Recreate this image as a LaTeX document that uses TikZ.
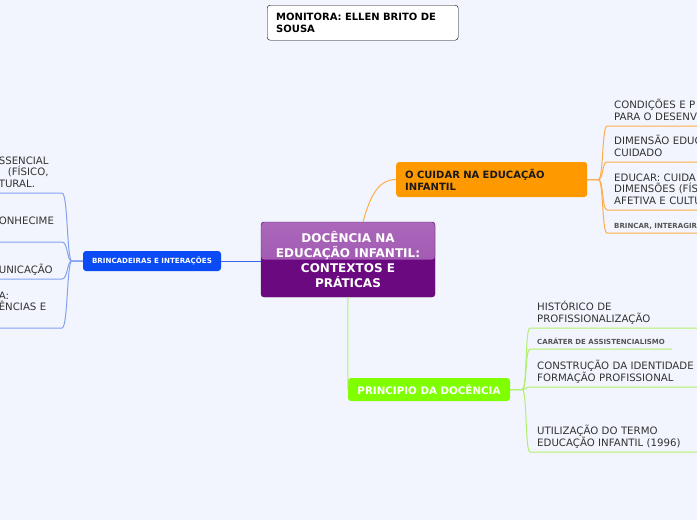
\documentclass[tikz,border=0pt]{standalone}
\usepackage{fontspec}
\setmainfont{DejaVu Sans}
\usetikzlibrary{positioning}
\definecolor{bgblue}{HTML}{F2F5FD}
\definecolor{purpletop}{HTML}{AB68BB}
\definecolor{purplemid}{HTML}{9A4DAA}
\definecolor{purplebot}{HTML}{6B0A80}
\definecolor{purpleedge}{HTML}{561068}
\definecolor{orangebox}{HTML}{FF9900}
\definecolor{orangeline}{HTML}{FFAD4A}
\definecolor{greenbox}{HTML}{80FF00}
\definecolor{greenline}{HTML}{B0F06C}
\definecolor{bluebox}{HTML}{0A4BF5}
\definecolor{blueline}{HTML}{3A66EE}
\definecolor{bluethin}{HTML}{86A0F2}
\definecolor{leaftext}{HTML}{333333}
\definecolor{smalltext}{HTML}{555555}
\tikzset{
    topic/.style={rounded corners=3pt, inner xsep=9pt, inner ysep=2pt,
    font=\fontsize{10}{11.7}\selectfont\bfseries
    },
    central/.style={draw=purpleedge, fill=purplebot, rounded corners=3pt, text=white,
    minimum width=174pt, minimum height=75pt, align=center,
    font=\fontsize{12}{14.8}\selectfont\bfseries,
    path picture={\shade[top color=purpletop, bottom color=purplemid]
    (path picture bounding box.north west) rectangle (path picture bounding box.east);}
    },
    leaf/.style={anchor=south west, align=left, inner xsep=7pt, inner ysep=2pt,
    execute at end node=\strut,
    text=leaftext, font=\fontsize{10.2}{11.5}\selectfont},
    smallleaf/.style={leaf, text=smalltext, font=\fontsize{7}{8}\selectfont\bfseries},
    oedge/.style={draw=orangeline, line width=1pt},
    pedge/.style={draw=greenline, line width=1pt},
    bedge/.style={draw=blueline, line width=1pt},
    bthin/.style={draw=bluethin, line width=1pt}
}
\begin{document}
\begin{tikzpicture}[x=1pt,y=-1pt]
\fill[bgblue] (0,0) rectangle (697,520);
\useasboundingbox (0,0) rectangle (697,520);

\node[topic, draw=black, fill=white, anchor=north west, minimum width=191pt, minimum height=35pt,
  text width=173pt, align=left] (m) at (267,5) {MONITORA: ELLEN BRITO DE\\SOUSA};

\node[central] (c) at (348,259.5) {DOCÊNCIA NA\\EDUCAÇÃO INFANTIL:\\CONTEXTOS E\\PRÁTICAS};

\node[topic, fill=orangebox, text=black!90, anchor=west, minimum height=35pt, text width=173pt,
  align=left] (o) at (396,179.5) {O CUIDAR NA EDUCAÇÃO\\INFANTIL};
\node[topic, fill=greenbox, text=white, minimum width=162pt, minimum height=23pt,
  font=\fontsize{10.3}{12}\selectfont\bfseries] (p) at (429,389.5) {PRINCIPIO DA DOCÊNCIA};
\node[topic, fill=bluebox, text=white, minimum width=138pt, minimum height=20pt,
  font=\fontsize{7.1}{8}\selectfont\bfseries] (b) at (152,261) {BRINCADEIRAS E INTERAÇÕES};

% O cuidar
\node[leaf, text width=100pt] (o1) at (607,126) {CONDIÇÕES E P\\PARA O DESENV};
\node[leaf, text width=100pt] (o2) at (607,162) {DIMENSÃO EDUC\\CUIDADO};
\node[leaf, text width=100pt] (o3) at (607,210) {EDUCAR: CUIDA\\DIMENSÕES (FÍS\\AFETIVA E CULTU};
\node[smallleaf, text width=100pt] (o4) at (607,233) {BRINCAR, INTERAGIR};

% principio
\node[leaf, text width=170pt] (p1) at (530,328) {HISTÓRICO DE\\PROFISSIONALIZAÇÃO};
\node[smallleaf] (p2) at (530,349) {CARÁTER DE ASSISTENCIALISMO};
\node[leaf, text width=170pt] (p3) at (530,387) {CONSTRUÇÃO DA IDENTIDADE\\FORMAÇÃO PROFISSIONAL};
\node[leaf, text width=170pt] (p4) at (530,452) {UTILIZAÇÃO DO TERMO\\EDUCAÇÃO INFANTIL (1996)};

% brincadeiras
\node[leaf, anchor=south east, text width=56pt] (b1) at (62,193) {SSENCIAL\\\hspace*{9pt}(FÍSICO,\\TURAL.};
\node[leaf, anchor=south east, text width=56pt] (b2) at (62,242) {ONHECIME\\\mbox{}};
\node[leaf, anchor=south east, text width=56pt] (b3) at (62,279) {UNICAÇÃO};
\node[leaf, anchor=south east, text width=56pt] (b4) at (62,328) {A:\\ÊNCIAS E\\\mbox{}};

\draw[oedge] ([xshift=15pt]c.north) .. controls +(7,-25) and +(-18,0) .. (o.west);
\draw[pedge] (c.south) -- (p.west);
\draw[bedge] (c.west |- b.east) -- (b.east);

\draw[oedge] (o.east) -- ++(11,0) .. controls +(5,0) and +(-5,0) .. (o1.south west) -- (o1.south east);
\draw[oedge] (o.east) -- ++(11,0) .. controls +(5,0) and +(-5,0) .. (o2.south west) -- (o2.south east);
\draw[oedge] (o.east) -- ++(11,0) .. controls +(5,0) and +(-5,0) .. (o3.south west) -- (o3.south east);
\draw[oedge] (o.east) -- ++(11,0) .. controls +(5,0) and +(-5,0) .. (o4.south west) -- (o4.south east);

\draw[pedge] (p.east) -- ++(12,0) .. controls +(5,0) and +(-5,0) .. (p1.south west) -- (p1.south east);
\draw[pedge] (p.east) -- ++(12,0) .. controls +(5,0) and +(-5,0) .. (p2.south west) -- (p2.south east);
\draw[pedge] (p.east) -- ++(12,0) .. controls +(5,0) and +(-5,0) .. (p3.south west) -- (p3.south east);
\draw[pedge] (p.east) -- ++(12,0) .. controls +(5,0) and +(-5,0) .. (p4.south west) -- (p4.south east);

\draw[bthin] (b.west) -- ++(-11,0) .. controls +(-5,0) and +(6,0) .. (b1.south east) -- (b1.south west);
\draw[bthin] (b.west) -- ++(-11,0) .. controls +(-5,0) and +(6,0) .. (b2.south east) -- (b2.south west);
\draw[bthin] (b.west) -- ++(-11,0) .. controls +(-5,0) and +(6,0) .. (b3.south east) -- (b3.south west);
\draw[bthin] (b.west) -- ++(-11,0) .. controls +(-5,0) and +(6,0) .. (b4.south east) -- (b4.south west);
\end{tikzpicture}
\end{document}
